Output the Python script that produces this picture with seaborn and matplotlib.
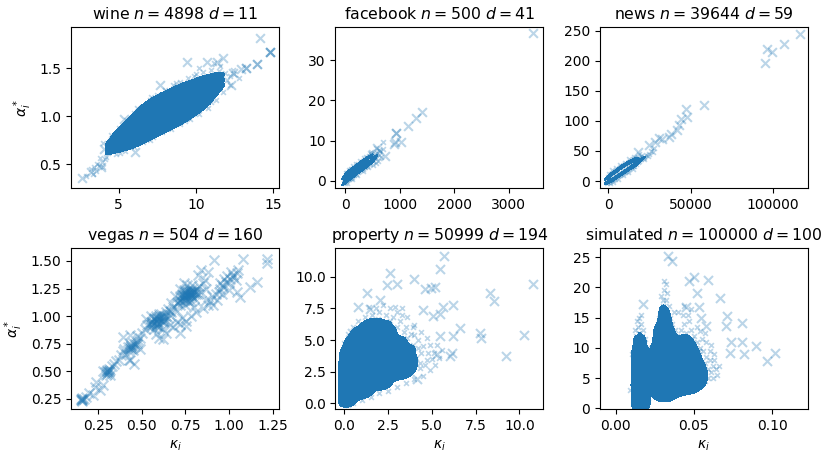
import numpy as np
import pandas as pd
import matplotlib
matplotlib.use("Agg")
import matplotlib.pyplot as plt
from matplotlib.colors import ListedColormap
import seaborn as sns

BLUE = "#1f77b4"

# ---------------- data ----------------
# wine
wine_core = [(4.6,0.65),(4.6,0.70),(4.6,0.75),(5.0,0.67),(5.0,0.75),(5.0,0.83),
             (5.4,0.68),(5.4,0.73),(5.4,0.79),(5.4,0.84),(5.4,0.90),
             (5.8,0.70),(5.8,0.77),(5.8,0.83),(5.8,0.90),(5.8,0.96),
             (6.2,0.72),(6.2,0.80),(6.2,0.87),(6.2,0.95),(6.2,1.02),
             (6.6,0.75),(6.6,0.83),(6.6,0.92),(6.6,1.00),(6.6,1.09),
             (7.0,0.78),(7.0,0.87),(7.0,0.96),(7.0,1.05),(7.0,1.14),
             (7.4,0.82),(7.4,0.91),(7.4,1.00),(7.4,1.09),(7.4,1.18),
             (7.8,0.85),(7.8,0.94),(7.8,1.03),(7.8,1.12),(7.8,1.21),
             (8.2,0.88),(8.2,0.97),(8.2,1.06),(8.2,1.15),(8.2,1.24),
             (8.6,0.91),(8.6,1.00),(8.6,1.09),(8.6,1.18),(8.6,1.27),
             (9.0,0.94),(9.0,1.03),(9.0,1.12),(9.0,1.21),(9.0,1.30),
             (9.4,0.98),(9.4,1.07),(9.4,1.15),(9.4,1.24),(9.4,1.32),
             (9.8,1.02),(9.8,1.10),(9.8,1.18),(9.8,1.26),(9.8,1.34),
             (10.2,1.07),(10.2,1.14),(10.2,1.22),(10.2,1.29),(10.2,1.37),
             (10.6,1.12),(10.6,1.19),(10.6,1.25),(10.6,1.32),(10.6,1.38),
             (11.0,1.20),(11.0,1.25),(11.0,1.30),(11.0,1.35),(11.0,1.40),
             (11.4,1.28),(11.4,1.34),(11.4,1.40)]
wine_fringe = [(4.0,0.72),(4.5,0.80),(5.0,0.88),(5.5,0.96),(6.0,1.03),(6.5,1.10),(7.0,1.17),
               (7.5,1.22),(8.0,1.27),(8.5,1.32),(9.0,1.36),(9.5,1.40),(10.0,1.44),(10.5,1.46),
               (11.0,1.48),(11.5,1.47),(11.9,1.45),(12.2,1.42),(4.2,0.57),(4.8,0.60),(5.4,0.64),
               (6.0,0.68),(6.6,0.73),(7.2,0.78),(7.8,0.83),(8.4,0.87),(9.0,0.92),(9.6,0.97),
               (10.2,1.02),(10.8,1.09),(11.3,1.17),(11.8,1.25),(12.2,1.32),(3.2,0.45),(3.5,0.43),
               (3.7,0.48),(3.9,0.52),(3.6,0.50),(4.0,0.47),(3.3,0.40),(2.9,0.38),(4.1,0.55),
               (3.8,0.56),(12.0,1.38),(12.5,1.44),(12.8,1.40),(12.4,1.48),(11.6,1.52),(11.2,1.55),
               (10.2,1.50),(6.2,1.08),(7.1,1.20),(8.7,1.35),(9.9,1.42),(11.7,1.40),(5.1,0.62),
               (7.0,0.75),(9.3,0.95),(11.0,1.15),(4.4,0.74),(3.4,0.47),(4.3,0.62),(4.3,0.68)]
wine_outliers = [(14.14,1.82),(14.79,1.67),(14.79,1.67),(14.79,1.67),(13.97,1.54),(13.97,1.54),
                 (13.28,1.50),(13.28,1.50),(12.96,1.49),(12.42,1.45),(11.77,1.61),(10.70,1.57),
                 (9.41,1.57),(7.69,1.32),(5.32,0.97),(4.03,0.66),(2.64,0.35),(3.18,0.42),(3.82,0.47),
                 (12.30,1.32),(11.35,1.56),(6.08,0.63)]

# facebook
facebook_core = [(0,-0.4),(0,1.0),(20,0.0),(20,1.5),(40,0.2),(40,1.9),(60,0.4),(60,2.2),(80,0.7),
                 (80,2.4),(100,0.8),(100,2.7),(130,1.1),(130,3.0),(160,1.4),(160,3.3),(200,1.8),
                 (200,3.7),(240,2.2),(240,4.1),(280,2.6),(280,4.5),(320,3.0),(320,4.9),(360,3.4),
                 (360,5.3),(400,3.8),(400,5.6),(450,4.3),(450,6.0),(500,5.0),(530,5.8),(30,0.8),
                 (90,1.6),(150,2.2),(220,2.9),(300,3.7),(380,4.5)]
facebook_fringe = [(520,6.3),(560,5.8),(580,7.0),(620,6.5),(640,7.5),(600,5.0),(480,6.8),(430,6.2),
                   (350,5.6),(270,4.9),(200,4.2),(150,3.6),(100,3.0),(60,2.6),(20,1.9),(-20,0.5),
                   (40,-0.5),(120,0.5),(220,1.4),(320,2.4),(420,3.4),(500,4.0),(560,4.5),(660,6.0),
                   (700,8.0),(699,9.6),(560,8.2),(468,7.3),(620,7.8),(540,6.8),(450,7.0),(380,6.0)]
facebook_outliers = [(3449,36.75),(1411,17.2),(1296,15.6),(1155,13.6),(931,11.9),(931,11.9),
                     (912,9.8),(1016,9.7),(894,9.2),(730,6.1),(578,8.2)]

# news
news_core = [(0,-1),(0,6),(1000,0),(1000,9),(2000,1),(2000,11),(3000,2),(3000,13),(4000,4),(4000,15),
             (5000,6),(5000,17),(6000,8),(6000,19),(7000,10),(7000,21),(8000,12),(8000,23),
             (9000,13),(9000,25),(10000,15),(10000,27),(11000,17),(11000,28),(12000,19),(12000,30),
             (13000,21),(13000,32),(14000,23),(14000,33),(15000,25),(15000,34),(16000,25),(16000,35),
             (17000,29),(18000,31),(19000,34),(20000,36)]
news_fringe = [(21000,38),(22000,40),(23000,44),(25000,45),(24000,41),(20000,42),(18000,38),
               (17000,36),(22000,36),(26000,50),(27000,48),(19000,45),(16000,37),(28000,55),
               (15000,20),(12000,15),(9000,10),(6000,4),(3000,-1),(-500,-3),(1000,-4),(500,12),
               (2500,18),(5000,22),(7500,26),(10000,30),(13000,36),(15500,40)]
news_outliers = [(116235,244),(106600,227.6),(99400,214.8),(96350,219.3),(94900,197),(58000,126.2),
                 (47550,119.6),(48150,106.8),(44090,103),(43000,93),(42000,85),(36900,73.6),
                 (30750,71),(28700,64.3),(24600,59.8),(18450,48.7),(33000,70),(38000,78)]

# vegas
vegas_points = [(0.15,0.24),(0.16,0.25),(0.16,0.23),(0.17,0.25),(0.155,0.26),(0.18,0.27),(0.20,0.30),
                (0.22,0.29),(0.23,0.36),(0.24,0.40),(0.26,0.33),(0.275,0.38),(0.29,0.49),(0.30,0.50),
                (0.31,0.50),(0.30,0.48),(0.32,0.51),(0.31,0.52),(0.295,0.47),(0.33,0.55),(0.34,0.57),
                (0.35,0.59),(0.32,0.47),(0.28,0.50),(0.37,0.60),(0.38,0.65),(0.39,0.68),(0.40,0.70),
                (0.41,0.66),(0.42,0.72),(0.43,0.70),(0.44,0.74),(0.45,0.76),(0.44,0.71),(0.46,0.73),
                (0.47,0.75),(0.45,0.69),(0.48,0.78),(0.43,0.60),(0.457,0.566),(0.428,0.60),(0.39,0.81),
                (0.43,0.83),(0.47,0.82),(0.49,0.80),(0.50,0.85),(0.49,0.70),(0.52,0.88),(0.53,0.92),
                (0.525,0.976),(0.55,0.90),(0.56,0.95),(0.57,0.98),(0.58,1.00),(0.59,0.93),(0.60,0.97),
                (0.61,1.02),(0.62,0.95),(0.63,1.00),(0.64,1.04),(0.60,0.90),(0.57,0.88),(0.55,1.00),
                (0.62,0.88),(0.65,0.98),(0.66,1.05),(0.58,0.84),(0.62,0.794),(0.60,0.80),(0.64,0.85),
                (0.66,0.92),(0.68,1.08),(0.70,1.12),(0.70,1.05),(0.72,1.15),(0.72,1.10),(0.73,1.20),
                (0.74,1.15),(0.75,1.22),(0.75,1.10),(0.76,1.18),(0.77,1.25),(0.78,1.20),(0.78,1.14),
                (0.79,1.28),(0.80,1.22),(0.80,1.16),(0.81,1.25),(0.82,1.20),(0.83,1.27),(0.84,1.22),
                (0.774,1.219),(0.76,1.28),(0.74,1.30),(0.72,1.25),(0.69,1.18),(0.67,1.12),(0.82,1.37),
                (0.84,1.416),(0.86,1.33),(0.85,1.30),(0.87,1.25),(0.912,1.507),(0.88,1.40),(0.717,0.85),
                (0.717,0.93),(0.755,0.91),(0.755,0.96),(0.78,1.00),(0.813,1.036),(0.85,1.07),
                (0.908,1.097),(0.70,0.95),(0.73,0.98),(0.68,0.90),(0.80,1.08),(0.88,1.10),(0.87,1.15),
                (0.889,1.14),(0.90,1.18),(0.928,1.20),(0.94,1.22),(0.947,1.25),(0.96,1.28),(0.966,1.26),
                (0.985,1.31),(1.00,1.30),(1.005,1.34),(1.02,1.35),(1.024,1.37),(1.043,1.39),(1.04,1.33),
                (0.95,1.30),(0.97,1.34),(0.99,1.36),(1.01,1.40),(0.93,1.15),(0.96,1.20),(1.00,1.24),
                (1.043,1.22),(1.062,1.173),(1.12,1.264),(1.158,1.31),(1.052,1.416),(1.081,1.516),
                (1.216,1.52),(1.216,1.48),
                (0.56,0.93),(0.58,0.96),(0.60,0.98),(0.62,1.00),(0.60,0.94),(0.58,0.92),(0.62,0.96),
                (0.57,0.97),(0.72,1.14),(0.74,1.17),(0.76,1.19),(0.78,1.21),(0.80,1.23),(0.75,1.21),
                (0.77,1.16),(0.79,1.18),(0.73,1.19),(0.81,1.20),(0.75,1.15),(0.77,1.22),
                (0.71,1.13),(0.73,1.16),(0.74,1.19),(0.76,1.21),(0.77,1.19),(0.78,1.23),(0.79,1.22),
                (0.80,1.20),(0.75,1.17),(0.76,1.15),(0.78,1.17),(0.72,1.18),(0.81,1.22),(0.79,1.25),
                (0.74,1.24),(0.77,1.13),(0.55,0.95),(0.57,0.94),(0.58,0.98),(0.59,0.97),(0.60,1.00),
                (0.61,0.96),(0.59,0.91),(0.56,0.92),(0.62,0.98),(0.63,0.96),(0.54,0.93),(0.60,1.02),
                (0.64,1.00),(0.66,1.01),(0.67,1.04),(0.65,1.06),(0.44,0.73),(0.45,0.72),(0.46,0.75),
                (0.43,0.72),(0.42,0.69),(0.47,0.77),(0.30,0.49),(0.31,0.49),(0.30,0.51),(0.16,0.24),
                (0.15,0.25),(0.76,1.23),(0.78,1.19),(0.75,1.19),(0.73,1.14),(0.59,0.95),(0.61,0.99)]

# property
property_core = [(0.05,0.3),(0.35,0.3),
                 (0.05,0.9),(0.45,0.9),(0.9,0.9),(1.3,1.0),
                 (0.05,1.6),(0.5,1.6),(1.0,1.6),(1.5,1.6),(2.0,1.6),(2.4,1.7),
                 (0.05,2.4),(0.5,2.4),(1.0,2.4),(1.5,2.4),(2.0,2.4),(2.5,2.4),(3.0,2.4),(3.4,2.5),(3.7,2.7),
                 (0.05,3.2),(0.5,3.2),(1.0,3.2),(1.5,3.2),(2.0,3.2),(2.5,3.2),(3.0,3.2),(3.4,3.2),(3.8,3.2),
                 (0.1,4.0),(0.5,4.0),(1.0,4.0),(1.5,4.0),(2.0,4.0),(2.5,4.0),(3.0,4.0),(3.4,4.0),(3.7,4.0),
                 (0.35,4.8),(0.8,4.8),(1.3,4.8),(1.8,4.8),(2.3,4.8),(2.8,4.8),(3.2,4.7),
                 (0.7,5.5),(1.2,5.6),(1.7,5.6),(2.2,5.6),(2.6,5.5),
                 (1.3,6.1),(1.8,6.2),(2.3,6.0)]
property_fringe = [(0.2,5.5),(0.5,6.0),(0.8,6.5),(1.2,6.8),(1.6,7.0),(2.0,7.2),(2.4,7.0),(2.8,6.8),
                   (3.2,6.5),(3.5,6.0),(3.8,5.5),(4.2,5.0),(4.5,4.5),(4.8,4.0),(5.0,3.5),(5.2,3.0),
                   (4.9,2.6),(4.5,2.2),(4.0,1.9),(3.5,1.6),(3.0,1.3),(2.5,1.0),(2.0,0.8),(1.5,0.5),
                   (1.0,0.3),(0.5,0.0),(0.2,-0.1),(-0.1,0.5),(-0.1,2.5),(0.0,4.8),(1.4,7.6),(2.2,7.8),
                   (2.6,7.5),(3.0,7.2),(3.3,7.5),(3.6,6.8),(4.0,6.2),(4.4,5.6),(4.7,5.2),(5.3,4.6),
                   (5.6,4.2),(5.4,3.6),(4.6,3.0),(3.9,6.0),(1.8,7.5),(3.0,6.0),(3.4,5.6),(4.0,5.4),
                   (4.4,4.0),(4.7,3.4),(4.3,2.8),(2.6,6.5),(1.9,6.7),(1.0,6.2),(3.3,7.0),(4.9,4.6),
                   (5.1,4.0),(4.2,4.4),(3.6,5.2),(2.9,7.6),(0.6,5.4),(4.1,3.6),(4.3,3.2),(3.9,4.6)]
property_outliers = [(5.71,11.63),(5.47,10.63),(10.8,9.4),(8.33,8.74),(8.57,8.08),(10.29,5.37),
                     (9.22,3.74),(7.75,5.53),(7.83,5.13),(2.61,10.32),(2.42,9.32),(2.99,9.4),(4.0,9.84),
                     (4.61,9.0),(4.95,9.1),(5.18,9.23),(1.27,8.74),(2.04,8.2),(0.8,7.6),(1.46,7.48),
                     (0.42,5.53),(6.23,7.76),(5.66,7.6),(5.47,7.03),(5.09,6.9),(4.51,7.4),(6.61,5.97),
                     (6.23,5.33),(5.47,5.33),(6.13,4.0),(6.03,3.74),(5.27,3.87),(4.13,1.9)]

# simulated
sim_core_a = [(0.0115,1.5),(0.0140,1.5),(0.0165,1.5),(0.0190,1.5),(0.0208,1.7),
              (0.0115,3.8),(0.0140,3.8),(0.0165,3.8),(0.0190,3.8),(0.0208,3.8),
              (0.0115,6.1),(0.0140,6.1),(0.0165,6.1),(0.0190,6.1),(0.0208,6.1),
              (0.0118,8.5),(0.0140,8.5),(0.0165,8.5),(0.0190,8.5),(0.0205,8.5),
              (0.0130,10.5),(0.0155,11.0),(0.0180,10.5)]
sim_core_bc = [(0.0250,3.0),(0.0250,5.2),(0.0250,7.5),(0.0250,9.5),
               (0.0275,2.6),(0.0275,5.0),(0.0275,8.0),(0.0275,11.0),(0.0275,12.5),
               (0.0300,2.6),(0.0300,5.0),(0.0300,8.0),(0.0300,11.0),(0.0300,14.0),(0.0310,16.0),
               (0.0325,2.6),(0.0325,5.0),(0.0325,8.0),(0.0325,11.0),(0.0325,14.5),
               (0.0350,2.8),(0.0350,5.0),(0.0350,8.0),(0.0350,11.0),(0.0350,12.5),
               (0.0375,3.2),(0.0375,5.5),(0.0375,8.0),(0.0375,10.5),
               (0.0400,3.5),(0.0400,5.8),(0.0400,8.0),(0.0400,10.0),
               (0.0425,3.7),(0.0425,5.8),(0.0425,8.0),(0.0425,10.5),
               (0.0450,3.8),(0.0450,5.8),(0.0450,8.0),(0.0450,11.0),
               (0.0475,3.9),(0.0475,5.8),(0.0475,8.0),(0.0475,10.3),
               (0.0500,4.1),(0.0500,6.0),(0.0500,8.0),(0.0500,9.3),
               (0.0525,4.5),(0.0525,6.2),(0.0525,7.6),(0.0550,5.0),(0.0550,6.2)]
sim_fringe = [(0.013,12),(0.015,12.5),(0.017,12),(0.0145,13.5),(0.016,14),(0.0135,14.5),(0.0185,11.5),
              (0.0105,9),(0.0215,8),(0.0225,4),(0.0095,3),(0.012,0.7),(0.020,0.8),(0.0165,15.5),
              (0.029,16),(0.030,18),(0.031,19.5),(0.032,20.5),(0.033,19),(0.034,17),(0.028,15),
              (0.026,12),(0.0245,10),(0.0235,6),(0.0235,3),(0.027,1.9),(0.033,1.9),(0.036,14),
              (0.037,16),(0.038,13),(0.042,13),(0.044,14),(0.046,15.5),(0.048,13),(0.050,12),
              (0.052,11),(0.054,10),(0.056,9.5),(0.058,8.5),(0.060,8),(0.062,7),(0.064,6.5),
              (0.066,7),(0.063,9),(0.061,10.5),(0.058,11),(0.056,6),(0.059,5),(0.062,5),(0.065,5.5),
              (0.055,4.3),(0.057,12.5),(0.052,13.5),(0.048,16.5),(0.044,17),(0.040,16),
              (0.030,17),(0.032,18),(0.031,21),(0.029,18.5),(0.033,16),(0.035,15),(0.027,14),
              (0.039,12),(0.041,11.5),(0.045,12.5),(0.049,11.5),(0.053,9.5),(0.057,7.5),(0.059,6.5),
              (0.061,6),(0.063,8),(0.060,9.5),(0.055,11.5),(0.057,4.5),(0.054,12.8),(0.047,14.5),
              (0.043,15.5),(0.0125,13),(0.0175,13),(0.015,15),(0.020,10),(0.041,3.0),(0.048,3.3)]
sim_outliers = [(0.0334,25.2),(0.0359,24.4),(0.050,21.8),(0.0472,21.0),(0.0589,21.3),(0.052,19.1),
                (0.0664,18.2),(0.0174,17.2),(0.0713,15.3),(0.0707,13.6),(0.0807,14.1),(0.0898,10.3),
                (0.102,9.1),(0.097,7.9),(0.0806,10.9),(0.0823,9.0),(0.0738,10.9),(0.0728,9.2),
                (0.0536,16.7),(0.0547,14.9),(0.0579,13.6),(0.045,16.7)]

names = ["wine", "facebook", "news", "vegas", "property", "simulated"]
n_values = [4898, 500, 39644, 504, 50999, 100000]
d_values = [11, 41, 59, 160, 194, 100]

xticks = [[5, 10, 15], [0, 1000, 2000, 3000], [0, 50000, 100000],
          [0.25, 0.5, 0.75, 1.0, 1.25], [0, 2.5, 5, 7.5, 10], [0, 0.05, 0.10]]
yticks = [[0.5, 1.0, 1.5], [0, 10, 20, 30], [0, 50, 100, 150, 200, 250],
          [0.25, 0.5, 0.75, 1.0, 1.25, 1.5], [0, 2.5, 5, 7.5, 10], [0, 5, 10, 15, 20, 25]]

cores = [[wine_core], [facebook_core], [news_core], [], [property_core], [sim_core_a, sim_core_bc]]
fringes = [wine_fringe, facebook_fringe, news_fringe, [], property_fringe, sim_fringe]
outliers = [wine_outliers, facebook_outliers, news_outliers, vegas_points, property_outliers, sim_outliers]

# ---------------- styling / layout ----------------
xlims = [(1.9, 15.4), (-180, 3635), (-4920, 121100), (0.0945, 1.286), (-0.51, 11.37), (-0.010, 0.1228)]
ylims = [(0.25, 1.93), (-1.75, 38.25), (-11.6, 256), (0.159, 1.616), (-0.45, 12.27), (-0.1, 26.5)]
kde_thresh = [0.04, 0.04, 0.04, 0.05, 0.03, 0.04]
kde_bw = [0.42, 0.45, 0.45, 0.5, 0.42, 0.5]
big_size = [40, 40, 40, 50, 42, 42]
solid = ListedColormap([BLUE])


def frame(points):
    arr = np.asarray(points, dtype=float).reshape(-1, 2)
    return pd.DataFrame({"x": arr[:, 0], "y": arr[:, 1]})


fig, axes = plt.subplots(2, 3, figsize=(8.26, 4.54), dpi=100)
fig.subplots_adjust(left=0.086, right=0.978, bottom=0.099, top=0.9405, wspace=0.272, hspace=0.373)

for i, ax in enumerate(axes.flat):
    for core in cores[i]:
        df = frame(core)
        sns.kdeplot(data=df, x="x", y="y", fill=True, levels=[kde_thresh[i], 1.0], cmap=solid,
                    bw_adjust=kde_bw[i], ax=ax)
        sns.scatterplot(data=df, x="x", y="y", marker="x", s=12, color=BLUE, alpha=0.3,
                        linewidth=1.2, ax=ax)
    if len(fringes[i]):
        sns.scatterplot(data=frame(fringes[i]), x="x", y="y", marker="x", s=12, color=BLUE,
                        alpha=0.3, linewidth=1.2, ax=ax)
    sns.scatterplot(data=frame(outliers[i]), x="x", y="y", marker="x", s=big_size[i], color=BLUE,
                    alpha=0.3, linewidth=1.5, ax=ax)

    ax.set_xlim(*xlims[i])
    ax.set_ylim(*ylims[i])
    ax.set_xticks(xticks[i])
    ax.set_yticks(yticks[i])
    ax.set_title(f"{names[i]} $n={n_values[i]}$ $d={d_values[i]}$", fontsize=11.3)
    ax.set_xlabel(r"$\kappa_i$" if i >= 3 else "")
    ax.set_ylabel(r"$\alpha_i^*$" if i % 3 == 0 else "")

fig.savefig("out.png", dpi=100)
